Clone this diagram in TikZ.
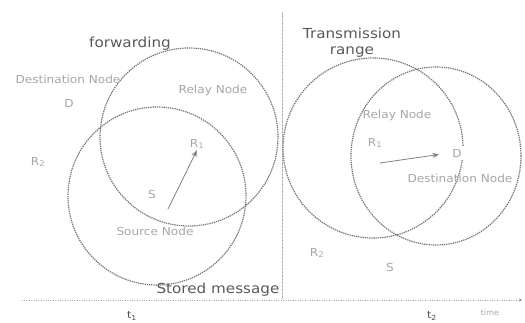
\documentclass[tikz,border=0pt]{standalone}
\usepackage{fontspec}
\setmainfont{DejaVu Sans}[FakeStretch=1.1]
\usetikzlibrary{arrows.meta}
\begin{document}
\begin{tikzpicture}[x=1pt, y=-1pt, line join=round, line cap=round, >=stealth]
 \tikzset{txrange/.style={draw=black!55, line width=1.2pt, line cap=butt, dash pattern=on 1.3pt off 0.9pt},
  lbl/.style={text=gray!70, font=\fontsize{11}{12}\selectfont, inner sep=1pt},
  big/.style={text=black!65, font=\fontsize{13.8}{16}\selectfont, inner sep=1pt, align=center},
  hop/.style={-{Stealth[length=7pt, width=5pt]}, draw=black!50, line width=0.8pt}}
 \useasboundingbox (0,0) rectangle (525,323);
 % ranges at t1
 \draw[txrange] (189,137) circle[radius=89pt];
 \draw[txrange] (157,196) circle[radius=89pt];
 % ranges at t2
 \draw[txrange] (373,148) circle[radius=90pt];
 \draw[txrange] (436,156) circle[x radius=85pt, y radius=89pt];
 % time axis and separator
 \coordinate (t0) at (22,300); \coordinate (tend) at (522,300);
 \coordinate (sep0) at (282,12); \coordinate (sep1) at (282,300);
 \draw[black!50, dotted, ->] (t0) -- (tend);
 \draw[black!45, densely dotted] (sep0) -- (sep1);
 % first snapshot
 \node[big] (fwd) at (130,44) {forwarding};
 \node[lbl] (dstA) at (68,79) {Destination Node};
 \node[lbl] (dA) at (69,103) {D};
 \node[lbl] (relA) at (213,90) {Relay Node};
 \node[lbl] (r1A) at (197,144) {R\textsubscript{1}};
 \node[lbl] (r2A) at (38,162) {R\textsubscript{2}};
 \node[lbl] (sA) at (152,194) {S};
 \node[lbl] (srcA) at (155,231) {Source Node};
 \node[big] (sto) at (218,290) {Stored message};
 \coordinate (tailA) at (168,209);
 \draw[hop] (tailA) -- (r1A.south);
 \node[font=\fontsize{10}{11}\selectfont, text=black!70, inner sep=1pt] (t1) at (132,316) {t\textsubscript{1}};
 % second snapshot
 \node[big] (trn) at (352,43) {Transmission\\range};
 \node[lbl] (relB) at (397,115) {Relay Node};
 \node[lbl] (r1B) at (375,143) {R\textsubscript{1}};
 \node[lbl, fill=white, inner sep=3pt] (dB) at (457,153) {D};
 \node[lbl] (dstB) at (460,178) {Destination Node};
 \node[lbl] (r2B) at (317,253) {R\textsubscript{2}};
 \node[lbl] (sB) at (390,267) {S};
 \coordinate (tailB) at (380,163);
 \draw[hop, shorten >=10pt] (tailB) -- (dB.west);
 \node[font=\fontsize{10}{11}\selectfont, text=black!70, inner sep=1pt] (t2) at (432,316) {t\textsubscript{2}};
 \node[lbl, font=\fontsize{7.5}{9}\selectfont] (tm) at (490,313) {time};
\end{tikzpicture}
\end{document}
